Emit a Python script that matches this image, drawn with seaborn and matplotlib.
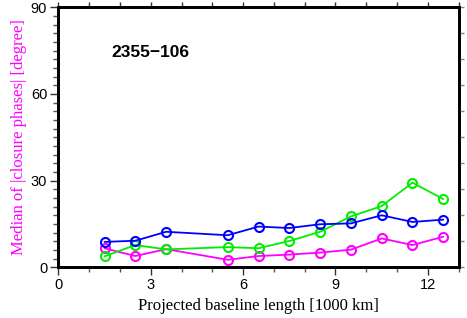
import numpy as np
import pandas as pd
import seaborn as sns
import matplotlib.pyplot as plt

# baseline bins [1000 km]
baseline = [1.5, 2.5, 3.5, 5.5, 6.5, 7.5, 8.5, 9.5, 10.5, 11.5, 12.5]

# median |closure phase| per bin [degree]
magenta_vals = [6.6, 3.9, 6.3, 2.6, 3.9, 4.4, 5.1, 6.1, 10.0, 7.7, 10.6]
green_vals = [3.8, 7.7, 6.2, 7.0, 6.6, 9.1, 12.3, 17.6, 21.2, 29.3, 23.6]
blue_vals = [8.8, 9.2, 12.3, 11.1, 14.1, 13.6, 14.9, 15.2, 18.0, 15.7, 16.5]

series_names = ["magenta", "green", "blue"]
series_colors = ["#ff00ff", "#00ee00", "#0000ff"]

source_name = "2355\u2212106"

sns.set_style("white")
plt.rcParams['font.family'] = ['Liberation Sans', 'DejaVu Sans']
plt.rcParams['text.color'] = 'black'
plt.rcParams['axes.labelcolor'] = 'black'

df = pd.DataFrame({
    "baseline": baseline * 3,
    "median": magenta_vals + green_vals + blue_vals,
    "series": sum([[n] * len(baseline) for n in series_names], []),
})

fig = plt.figure(figsize=(4.67, 3.18), dpi=100)
ax = fig.add_axes([0.1249, 0.1594, 0.8573, 0.8176])

for name, col in zip(series_names, series_colors):
    sub = df[df["series"] == name]
    sns.lineplot(data=sub, x="baseline", y="median", ax=ax, color=col,
                 linewidth=1.3, marker="o", markersize=6.5,
                 markerfacecolor="none", markeredgecolor=col,
                 markeredgewidth=1.5, legend=False)

ax.set_xlim(0, 13)
ax.set_ylim(0, 90)
ax.set_xticks([0, 3, 6, 9, 12])
ax.set_xticks(np.arange(0, 14, 1), minor=True)
ax.set_yticks([0, 30, 60, 90])
ax.set_yticks(np.arange(0, 91, 3), minor=True)
ax.tick_params(axis='both', which='major', direction='out', length=6,
               width=1, labelsize=10.5, color='#333333', labelcolor='black',
               pad=2)
ax.tick_params(axis='both', which='minor', direction='out', length=3.5,
               width=1, color='#555555')
for sp in ax.spines.values():
    sp.set_linewidth(1.8)
    sp.set_color('black')

ax.set_xlabel("Projected baseline length [1000 km]", family='Liberation Serif',
              fontsize=12, labelpad=4)
ax.set_ylabel("Median of |closure phases| [degree]", family='Liberation Serif',
              fontsize=12, color='#ff00ff', labelpad=3)

# top ticks every 1000 km
axt = ax.twiny()
axt.set_xlim(0, 13)
axt.set_xticks(np.arange(0, 14, 1))
axt.tick_params(axis='x', direction='out', length=3.5, width=1,
                color='#333333', labeltop=False)
# right ticks
axr = ax.twinx()
axr.set_ylim(0, 90)
axr.set_yticks(np.arange(0, 91, 9))
axr.tick_params(axis='y', direction='out', length=3.5, width=1,
                color='#888888', labelright=False)
for a in (axt, axr):
    for sp in a.spines.values():
        sp.set_linewidth(1.8)
        sp.set_color('black')

ax.text(0.229, 0.828, source_name, transform=ax.transAxes, ha='center',
        va='center', fontsize=12.5, fontweight='bold', color='black')

fig.savefig("out.png", dpi=100)
